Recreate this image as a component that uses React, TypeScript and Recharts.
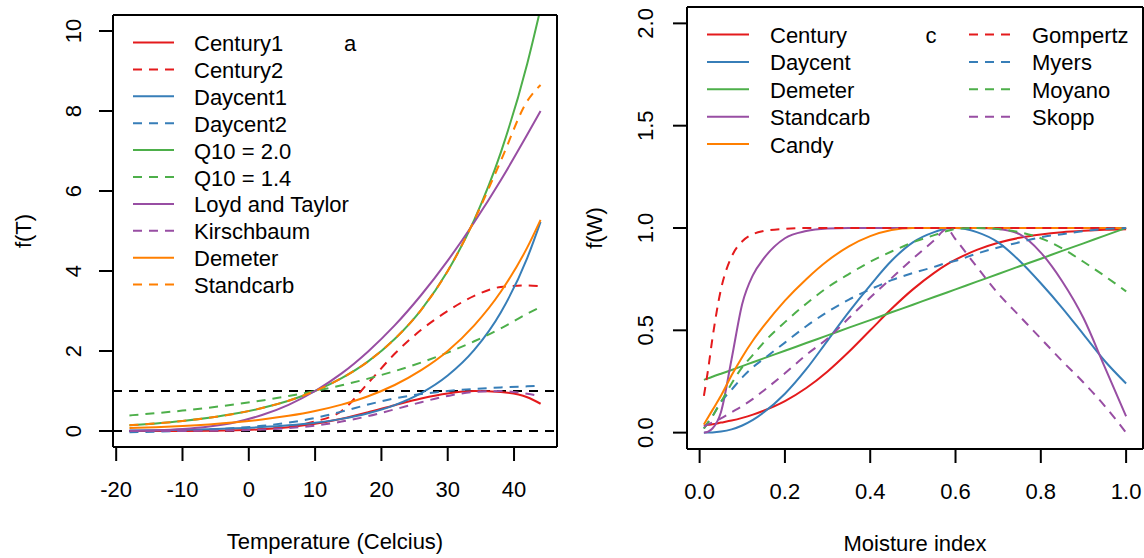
import React from 'react';
import { LineChart, Line, XAxis, YAxis, ReferenceLine, Legend } from 'recharts';

const FONT = '"Liberation Sans", Arial, Helvetica, sans-serif';
const DASH = '9 7';

const RED = '#E41A1C';
const BLUE = '#377EB8';
const GREEN = '#4DAF4A';
const PURPLE = '#984EA3';
const ORANGE = '#FF7F00';

// ---- panel a: temperature response ----
const temperature = [-18, -14, -10, -6, -2, 2, 6, 10, 14, 18, 22, 26, 30, 34, 38, 42, 44];
const century1 = [0.0001, 0.0005, 0.002, 0.006, 0.017, 0.043, 0.093, 0.179, 0.305, 0.467, 0.646, 0.813, 0.938, 0.997, 0.975, 0.845, 0.681];
const century2 = [0, 0, 0, 0.01, 0.02, 0.05, 0.11, 0.24, 0.5, 1.2, 1.93, 2.53, 3.0, 3.38, 3.6, 3.64, 3.62];
const daycent1 = [0.015, 0.021, 0.031, 0.045, 0.066, 0.097, 0.142, 0.207, 0.303, 0.443, 0.648, 0.947, 1.386, 2.026, 2.963, 4.33, 5.23];
const daycent2 = [-0.032, -0.015, 0.007, 0.036, 0.075, 0.13, 0.209, 0.325, 0.484, 0.662, 0.815, 0.925, 1.0, 1.052, 1.089, 1.117, 1.128];
const q10High = [0.145, 0.19, 0.25, 0.33, 0.435, 0.574, 0.758, 1.0, 1.32, 1.74, 2.3, 3.03, 4.0, 5.28, 6.96, 9.19, 10.56];
const q10Low = [0.39, 0.446, 0.51, 0.584, 0.668, 0.764, 0.874, 1.0, 1.144, 1.309, 1.497, 1.713, 1.96, 2.243, 2.565, 2.935, 3.1];
const lloydTaylor = [0.004, 0.016, 0.047, 0.11, 0.22, 0.4, 0.655, 1.0, 1.44, 1.99, 2.64, 3.4, 4.26, 5.22, 6.27, 7.41, 8.0];
const kirschbaum = [0.0002, 0.0007, 0.0022, 0.0062, 0.0153, 0.0345, 0.0714, 0.135, 0.235, 0.372, 0.541, 0.72, 0.876, 0.977, 0.997, 0.93, 0.87];
const demeterT = [0.072, 0.095, 0.125, 0.165, 0.218, 0.287, 0.379, 0.5, 0.66, 0.87, 1.15, 1.52, 2.0, 2.64, 3.48, 4.59, 5.28];
const standcarbT = [0.145, 0.19, 0.25, 0.33, 0.435, 0.574, 0.758, 1.0, 1.32, 1.74, 2.3, 3.03, 4.0, 5.27, 6.75, 8.25, 8.65];

const tempSeries = [
  { key: 'century1', name: 'Century1', color: RED, dashed: false, values: century1 },
  { key: 'century2', name: 'Century2', color: RED, dashed: true, values: century2 },
  { key: 'daycent1', name: 'Daycent1', color: BLUE, dashed: false, values: daycent1 },
  { key: 'daycent2', name: 'Daycent2', color: BLUE, dashed: true, values: daycent2 },
  { key: 'q10High', name: 'Q10 = 2.0', color: GREEN, dashed: false, values: q10High },
  { key: 'q10Low', name: 'Q10 = 1.4', color: GREEN, dashed: true, values: q10Low },
  { key: 'lloyd', name: 'Loyd and Taylor', color: PURPLE, dashed: false, values: lloydTaylor },
  { key: 'kirsch', name: 'Kirschbaum', color: PURPLE, dashed: true, values: kirschbaum },
  { key: 'demeter', name: 'Demeter', color: ORANGE, dashed: false, values: demeterT },
  { key: 'standcarb', name: 'Standcarb', color: ORANGE, dashed: true, values: standcarbT },
];

const tempTicksX = [-20, -10, 0, 10, 20, 30, 40];
const tempTicksY = [0, 2, 4, 6, 8, 10];

// ---- panel c: moisture response ----
const moisture = [0.01, 0.02, 0.03, 0.05, 0.075, 0.1, 0.125, 0.15, 0.2, 0.25, 0.3, 0.35, 0.4, 0.45, 0.5, 0.55, 0.58, 0.6, 0.65, 0.7, 0.75, 0.8, 0.85, 0.9, 0.95, 1.0];
const centuryW = [0.035, 0.038, 0.041, 0.049, 0.059, 0.072, 0.088, 0.107, 0.154, 0.218, 0.299, 0.395, 0.5, 0.605, 0.7, 0.781, 0.822, 0.845, 0.893, 0.928, 0.952, 0.968, 0.979, 0.986, 0.991, 0.994];
const daycentW = [0, 0.0001, 0.0007, 0.005, 0.016, 0.035, 0.062, 0.098, 0.19, 0.31, 0.45, 0.59, 0.72, 0.84, 0.93, 0.98, 0.997, 1.0, 0.98, 0.93, 0.84, 0.73, 0.61, 0.48, 0.35, 0.24];
const demeterW = [0.258, 0.265, 0.273, 0.288, 0.306, 0.325, 0.344, 0.363, 0.4, 0.438, 0.475, 0.513, 0.55, 0.588, 0.625, 0.663, 0.685, 0.7, 0.738, 0.775, 0.813, 0.85, 0.888, 0.925, 0.963, 1.0];
const standcarbW = [0, 0.005, 0.02, 0.1, 0.36, 0.63, 0.77, 0.85, 0.95, 0.985, 0.997, 1, 1, 1, 1, 1, 1, 1, 1, 0.995, 0.97, 0.88, 0.74, 0.56, 0.32, 0.08];
const candyW = [0.04, 0.075, 0.11, 0.18, 0.28, 0.37, 0.45, 0.52, 0.645, 0.75, 0.84, 0.91, 0.96, 0.99, 1, 1, 1, 1, 1, 1, 1, 1, 1, 1, 1, 1];
const gompertzW = [0.18, 0.31, 0.46, 0.7, 0.86, 0.935, 0.97, 0.985, 0.996, 1, 1, 1, 1, 1, 1, 1, 1, 1, 1, 1, 1, 1, 1, 1, 1, 1];
const myersW = [0.02, 0.05, 0.08, 0.15, 0.21, 0.27, 0.32, 0.36, 0.44, 0.52, 0.59, 0.65, 0.7, 0.745, 0.78, 0.81, 0.83, 0.84, 0.875, 0.905, 0.93, 0.955, 0.97, 0.985, 0.995, 1.0];
const moyanoW = [0.02, 0.05, 0.08, 0.15, 0.24, 0.32, 0.38, 0.44, 0.54, 0.63, 0.71, 0.775, 0.835, 0.885, 0.93, 0.965, 0.985, 0.995, 1.0, 0.995, 0.98, 0.95, 0.9, 0.835, 0.765, 0.69];
const skoppW = [0.03, 0.04, 0.05, 0.07, 0.1, 0.13, 0.165, 0.205, 0.29, 0.38, 0.46, 0.56, 0.66, 0.755, 0.85, 0.94, 0.995, 0.945, 0.81, 0.68, 0.57, 0.46, 0.35, 0.245, 0.13, 0];

const moistSeries = [
  { key: 'century', name: 'Century', color: RED, dashed: false, values: centuryW },
  { key: 'daycent', name: 'Daycent', color: BLUE, dashed: false, values: daycentW },
  { key: 'demeter', name: 'Demeter', color: GREEN, dashed: false, values: demeterW },
  { key: 'standcarb', name: 'Standcarb', color: PURPLE, dashed: false, values: standcarbW },
  { key: 'candy', name: 'Candy', color: ORANGE, dashed: false, values: candyW },
  { key: 'gompertz', name: 'Gompertz', color: RED, dashed: true, values: gompertzW },
  { key: 'myers', name: 'Myers', color: BLUE, dashed: true, values: myersW },
  { key: 'moyano', name: 'Moyano', color: GREEN, dashed: true, values: moyanoW },
  { key: 'skopp', name: 'Skopp', color: PURPLE, dashed: true, values: skoppW },
];

const moistTicksX = [0, 0.2, 0.4, 0.6, 0.8, 1.0];
const moistTicksY = [0, 0.5, 1.0, 1.5, 2.0];

const toRows = (xs: number[], series: any[]) =>
  xs.map((x, i) => {
    const row: any = { x };
    series.forEach((s) => (row[s.key] = s.values[i]));
    return row;
  });

const tempData = toRows(temperature, tempSeries);
const moistData = toRows(moisture, moistSeries);

const textStyle = { fontSize: 22, fontFamily: FONT, fill: '#000' };
const axisStroke = { stroke: '#000', strokeWidth: 2 };

// y tick labels are drawn parallel to the axis, like base R
const SideTick = (props: any) => {
  const { x, y, payload, shift, fmt } = props;
  return (
    <text x={0} y={0} transform={`translate(${x - shift},${y}) rotate(-90)`} textAnchor="middle" dy="0.355em" {...textStyle}>
      {fmt(payload.value)}
    </text>
  );
};

const SideTitle = (props: any) => {
  const { viewBox, text, cx } = props;
  const cy = viewBox.y + viewBox.height / 2;
  return (
    <text x={0} y={0} transform={`translate(${cx},${cy}) rotate(-90)`} textAnchor="middle" dy="0.355em" {...textStyle}>
      {text}
    </text>
  );
};

const PanelLegend = ({ cols, tag }: any) => (
  <svg width={572} height={320} style={{ display: 'block', overflow: 'visible' }}>
    {cols.map((col: any) =>
      col.items.map((s: any, i: number) => {
        const ly = col.y0 + col.step * i;
        return (
          <g key={s.key + col.lx1}>
            <line x1={col.lx1} x2={col.lx2} y1={ly} y2={ly} stroke={s.color} strokeWidth={2} strokeDasharray={s.dashed ? DASH : undefined} />
            <text x={col.tx} y={ly + 8.5} {...textStyle}>
              {s.name}
            </text>
          </g>
        );
      })
    )}
    <text x={tag.x} y={tag.y} textAnchor="middle" {...textStyle}>
      {tag.text}
    </text>
  </svg>
);

const TemperaturePanel = () => (
  <LineChart width={572} height={558} data={tempData} margin={{ top: 14, right: 14, bottom: 0, left: 0 }}>
    <XAxis
      type="number"
      dataKey="x"
      domain={[-20.48, 46.48]}
      allowDataOverflow
      ticks={tempTicksX}
      interval={0}
      height={111}
      tickSize={14}
      tickMargin={20}
      axisLine={axisStroke}
      tickLine={axisStroke}
      tick={textStyle}
      label={{ value: 'Temperature (Celcius)', position: 'insideBottom', offset: 9, ...textStyle }}
    />
    <XAxis xAxisId="top" orientation="top" type="number" dataKey="x" domain={[-20.48, 46.48]} allowDataOverflow height={1} tick={false} tickLine={false} axisLine={axisStroke} />
    <YAxis
      type="number"
      domain={[-0.4, 10.4]}
      allowDataOverflow
      ticks={tempTicksY}
      interval={0}
      width={113}
      tickSize={14}
      tickMargin={2}
      axisLine={axisStroke}
      tickLine={axisStroke}
      tick={(p: any) => <SideTick {...p} shift={24.3} fmt={(v: number) => String(v)} />}
      label={{ content: (p: any) => <SideTitle {...p} text="f(T)" cx={23.4} /> }}
    />
    <YAxis yAxisId="box" orientation="right" type="number" domain={[-0.4, 10.4]} allowDataOverflow width={1} tick={false} tickLine={false} axisLine={axisStroke} />
    <ReferenceLine y={0} stroke="#000" strokeWidth={2} strokeDasharray={DASH} />
    <ReferenceLine y={1} stroke="#000" strokeWidth={2} strokeDasharray={DASH} />
    {tempSeries.map((s) => (
      <Line
        key={s.key}
        type="monotone"
        dataKey={s.key}
        name={s.name}
        stroke={s.color}
        strokeWidth={2}
        strokeDasharray={s.dashed ? DASH : undefined}
        dot={false}
        activeDot={false}
        isAnimationActive={false}
      />
    ))}
    <Legend
      layout="horizontal"
      align="center"
      verticalAlign="middle"
      wrapperStyle={{ left: 0, top: 0, width: 572, height: 320, pointerEvents: 'none' }}
      content={() => (
        <PanelLegend
          cols={[{ items: tempSeries, lx1: 133, lx2: 174, tx: 194, y0: 42.5, step: 26.9 }]}
          tag={{ text: 'a', x: 350, y: 51 }}
        />
      )}
    />
  </LineChart>
);

const MoisturePanel = () => (
  <LineChart width={572} height={558} data={moistData} margin={{ top: 6, right: 0, bottom: 0, left: 0 }}>
    <XAxis
      type="number"
      dataKey="x"
      domain={[-0.0296, 1.0396]}
      allowDataOverflow
      ticks={moistTicksX}
      interval={0}
      height={109}
      tickSize={14}
      tickMargin={20}
      axisLine={axisStroke}
      tickLine={axisStroke}
      tick={textStyle}
      tickFormatter={(v: number) => v.toFixed(1)}
      label={{ value: 'Moisture index', position: 'insideBottom', offset: 7, ...textStyle }}
    />
    <XAxis xAxisId="top" orientation="top" type="number" dataKey="x" domain={[-0.0296, 1.0396]} allowDataOverflow height={1} tick={false} tickLine={false} axisLine={axisStroke} />
    <YAxis
      type="number"
      domain={[-0.08, 2.08]}
      allowDataOverflow
      ticks={moistTicksY}
      interval={0}
      width={115}
      tickSize={14}
      tickMargin={2}
      axisLine={axisStroke}
      tickLine={axisStroke}
      tick={(p: any) => <SideTick {...p} shift={26} fmt={(v: number) => v.toFixed(1)} />}
      label={{ content: (p: any) => <SideTitle {...p} text="f(W)" cx={21.7} /> }}
    />
    <YAxis yAxisId="box" orientation="right" type="number" domain={[-0.08, 2.08]} allowDataOverflow width={1} tick={false} tickLine={false} axisLine={axisStroke} />
    {moistSeries.map((s) => (
      <Line
        key={s.key}
        type="monotone"
        dataKey={s.key}
        name={s.name}
        stroke={s.color}
        strokeWidth={2}
        strokeDasharray={s.dashed ? DASH : undefined}
        dot={false}
        activeDot={false}
        isAnimationActive={false}
      />
    ))}
    <Legend
      layout="horizontal"
      align="center"
      verticalAlign="middle"
      wrapperStyle={{ left: 0, top: 0, width: 572, height: 320, pointerEvents: 'none' }}
      content={() => (
        <PanelLegend
          cols={[
            { items: moistSeries.slice(0, 5), lx1: 135, lx2: 177, tx: 198, y0: 34.5, step: 27.4 },
            { items: moistSeries.slice(5), lx1: 397, lx2: 440, tx: 460, y0: 34.5, step: 27.4 },
          ]}
          tag={{ text: 'c', x: 359, y: 43 }}
        />
      )}
    />
  </LineChart>
);

export default function App() {
  return (
    <div style={{ position: 'absolute', left: 0, top: 0, width: 1144, height: 558, background: '#fff', overflow: 'hidden' }}>
      <div style={{ position: 'absolute', left: 0, top: 0 }}>
        <TemperaturePanel />
      </div>
      <div style={{ position: 'absolute', left: 572, top: 0 }}>
        <MoisturePanel />
      </div>
    </div>
  );
}
